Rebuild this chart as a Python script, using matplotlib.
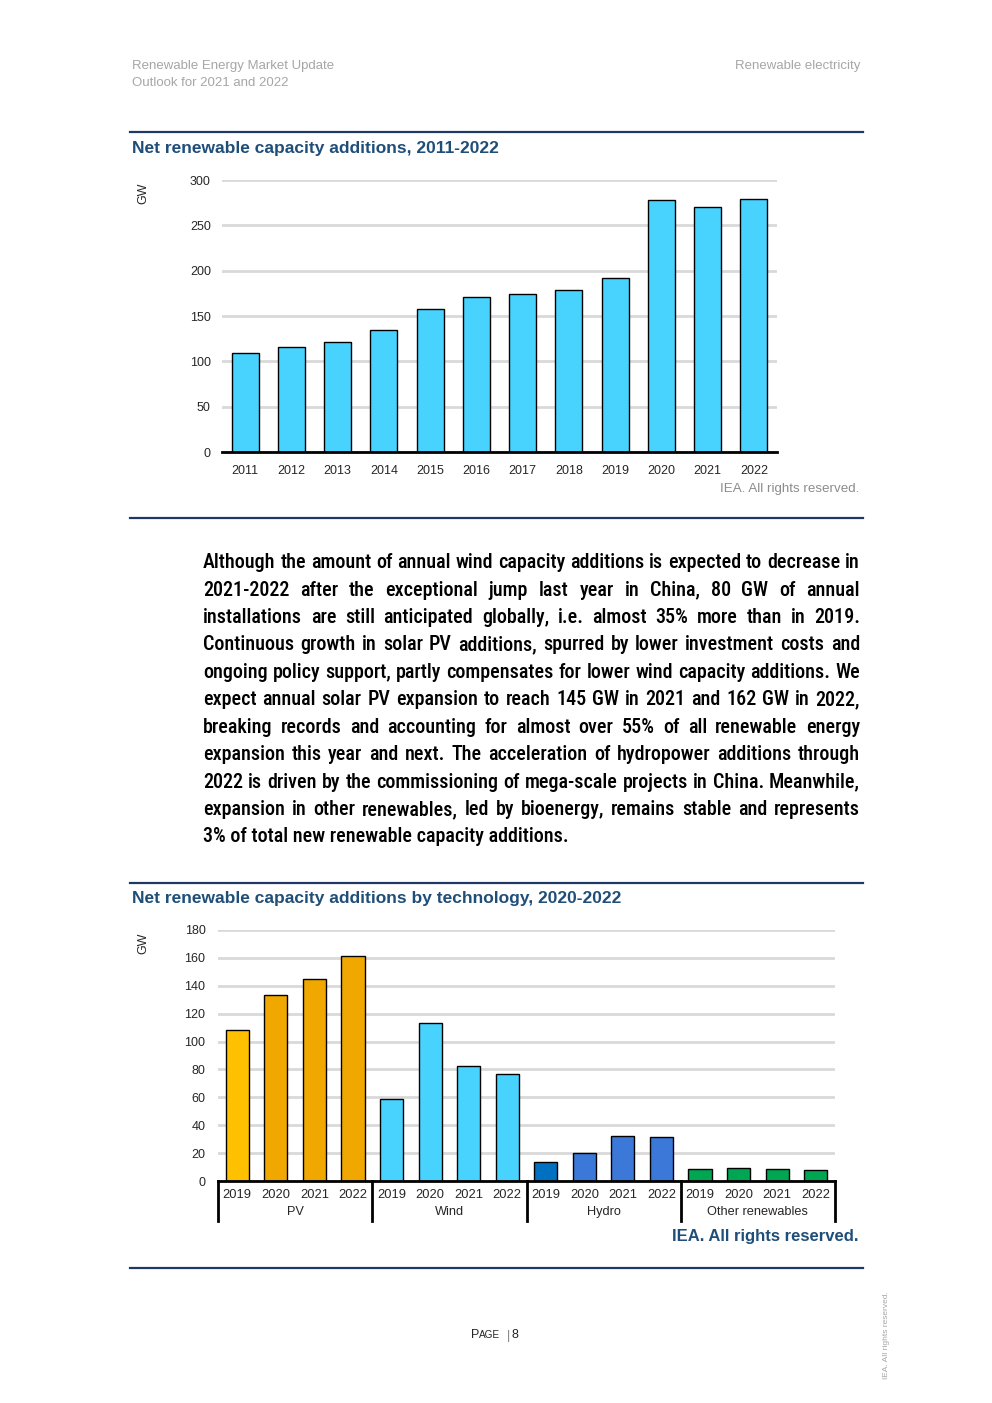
import os
import matplotlib
matplotlib.use("Agg")
import matplotlib.pyplot as plt
from matplotlib import font_manager
from matplotlib.font_manager import FontProperties
from matplotlib.lines import Line2D

W, H = 992, 1403

# chart 1
years_total = ["2011", "2012", "2013", "2014", "2015", "2016",
               "2017", "2018", "2019", "2020", "2021", "2022"]
capacity_total = [109.6, 116, 121.5, 134.6, 157.8, 171,
                  174.3, 178.7, 191.9, 277.6, 269.9, 278.7]

# chart 2
technologies = ["PV", "Wind", "Hydro", "Other renewables"]
tech_years = ["2019", "2020", "2021", "2022"]
pv_values = [108, 133.5, 145, 161.3]
wind_values = [58.7, 113.4, 82.5, 76.7]
hydro_values = [13.4, 19.9, 32.4, 31.4]
other_values = [8.4, 9.1, 8.4, 7.7]

pv_colors = ["#FFC000", "#F0A800", "#F0A800", "#F0A800"]
wind_colors = ["#48D3FF"] * 4
hydro_colors = ["#0070C0", "#3C78D8", "#3C78D8", "#3C78D8"]
other_colors = ["#00A651"] * 4

paragraph = [
    "Although the amount of annual wind capacity additions is expected to decrease in",
    "2021-2022 after the exceptional jump last year in China, 80 GW of annual",
    "installations are still anticipated globally, i.e. almost 35% more than in 2019.",
    "Continuous growth in solar PV additions, spurred by lower investment costs and",
    "ongoing policy support, partly compensates for lower wind capacity additions. We",
    "expect annual solar PV expansion to reach 145 GW in 2021 and 162 GW in 2022,",
    "breaking records and accounting for almost over 55% of all renewable energy",
    "expansion this year and next. The acceleration of hydropower additions through",
    "2022 is driven by the commissioning of mega-scale projects in China. Meanwhile,",
    "expansion in other renewables, led by bioenergy, remains stable and represents",
    "3% of total new renewable capacity additions.",
]

NAVY = "#1F3864"
TITLE = "#1F4E79"


def fx(x):
    return x / W


def fy(y):
    return 1 - y / H


def weight_num(w):
    if isinstance(w, (int, float)):
        return int(w)
    return font_manager.weight_dict.get(w, 400)


def find_condensed(weights):
    # a condensed sans face in the first available weight
    fonts = [f for f in font_manager.fontManager.ttflist if f.style == "normal"]
    for wt in weights:
        for want in ("Liberation Sans Narrow", "Roboto Condensed", "DejaVu Sans Condensed"):
            for f in fonts:
                if f.name == want and weight_num(f.weight) == wt:
                    return f.fname
        for f in fonts:
            base = os.path.basename(f.fname)
            if ("Condensed" in base or "Narrow" in base) and "Italic" not in base \
                    and "Oblique" not in base and weight_num(f.weight) == wt:
                return f.fname
    return None


def main():
    plt.rcParams["font.family"] = ["Liberation Sans", "DejaVu Sans"]
    para_path = find_condensed([500, 700, 400])

    def para_fp(size):
        if para_path:
            return FontProperties(fname=para_path, size=size)
        return FontProperties(family="Liberation Sans", size=size, weight="bold")

    fig = plt.figure(figsize=(W / 100, H / 100), dpi=100)
    renderer = fig.canvas.get_renderer()

    # page header
    fig.text(fx(132), fy(66), "Renewable Energy Market Update", color="#a6a6a6",
             fontsize=9.5, va="center")
    fig.text(fx(132), fy(83), "Outlook for 2021 and 2022", color="#a6a6a6",
             fontsize=9.5, va="center")
    fig.text(fx(860), fy(66), "Renewable electricity", color="#a6a6a6",
             fontsize=9.5, va="center", ha="right")

    for yy in (132, 518, 883, 1268):
        fig.add_artist(Line2D([fx(130), fx(863)], [fy(yy), fy(yy)], color=NAVY, lw=1.6))

    # ---- chart 1
    fig.text(fx(132), fy(148), "Net renewable capacity additions, 2011-2022",
             color=TITLE, fontsize=12.5, weight="bold", va="center")
    ax1 = fig.add_axes([fx(222), fy(452), (777 - 222) / W, (452 - 180) / H])
    x1 = range(len(years_total))
    ax1.bar(x1, capacity_total, width=0.58, color="#48D3FF", edgecolor="black",
            linewidth=1, zorder=3)
    ax1.set_xlim(-0.5, len(years_total) - 0.5)
    ax1.set_ylim(0, 300)
    ax1.set_yticks(range(0, 301, 50))
    ax1.set_xticks(list(x1))
    ax1.set_xticklabels(years_total)
    ax1.yaxis.grid(True, color="#d9d9d9", lw=2)
    ax1.set_axisbelow(True)
    for s in ("top", "right", "left"):
        ax1.spines[s].set_visible(False)
    ax1.spines["bottom"].set_linewidth(2)
    ax1.spines["bottom"].set_zorder(4)
    ax1.tick_params(axis="y", length=0, labelsize=9, pad=8, labelcolor="#262626")
    ax1.tick_params(axis="x", length=0, labelsize=9, pad=9.5, labelcolor="#262626")
    fig.text(fx(143), fy(193), "GW", rotation=90, fontsize=9, ha="center", va="center",
             color="#262626")
    fig.text(fx(859), fy(489), "IEA. All rights reserved.", color="#8c8c8c",
             fontsize=9.6, ha="right", va="center")

    # ---- justified paragraph
    left, right = 203, 860
    span = right - left
    fp0 = para_fp(12)
    widest = max(renderer.get_text_width_height_descent(l, fp0, ismath=False)[0]
                 for l in paragraph[:-1])
    size = 12 * (span - 2) / widest
    fp = para_fp(size)
    for i, line in enumerate(paragraph):
        yy = 568.3 + i * 27.4
        if i == len(paragraph) - 1:
            fig.text(fx(left), fy(yy), line, fontproperties=fp, va="baseline", color="black")
            continue
        words = line.split(" ")
        widths = [renderer.get_text_width_height_descent(w, fp, ismath=False)[0] for w in words]
        gap = (span - sum(widths)) / (len(words) - 1)
        xx = left
        for w, wd in zip(words, widths):
            fig.text(fx(xx), fy(yy), w, fontproperties=fp, va="baseline", color="black")
            xx += wd + gap

    # ---- chart 2
    fig.text(fx(132), fy(898), "Net renewable capacity additions by technology, 2020-2022",
             color=TITLE, fontsize=12.5, weight="bold", va="center")
    ax2 = fig.add_axes([fx(218), fy(1181), (835 - 218) / W, (1181 - 930) / H])
    values = pv_values + wind_values + hydro_values + other_values
    colors = pv_colors + wind_colors + hydro_colors + other_colors
    x2 = list(range(len(values)))
    ax2.bar(x2, values, width=0.6, color=colors, edgecolor="black", linewidth=1, zorder=3)
    ax2.set_xlim(-0.5, len(values) - 0.5)
    ax2.set_ylim(0, 180)
    ax2.set_yticks(range(0, 181, 20))
    ax2.set_xticks(x2)
    ax2.set_xticklabels(tech_years * len(technologies))
    ax2.yaxis.grid(True, color="#d9d9d9", lw=2)
    ax2.set_axisbelow(True)
    for s in ("top", "right", "left"):
        ax2.spines[s].set_visible(False)
    ax2.spines["bottom"].set_linewidth(2)
    ax2.spines["bottom"].set_zorder(4)
    ax2.tick_params(axis="y", length=0, labelsize=9, pad=9, labelcolor="#262626")
    ax2.tick_params(axis="x", length=0, labelsize=9.3, pad=5.5, labelcolor="#262626")
    trans = ax2.get_xaxis_transform()
    n = len(tech_years)
    for g, name in enumerate(technologies):
        ax2.text(g * n + (n - 1) / 2, -31 / 251, name, transform=trans, ha="center",
                 va="center", fontsize=9.2, color="#262626")
    for g in range(len(technologies) + 1):
        ax2.plot([g * n - 0.5, g * n - 0.5], [0, -40 / 251], transform=trans,
                 color="black", lw=2, clip_on=False)
    fig.text(fx(143), fy(943), "GW", rotation=90, fontsize=9, ha="center", va="center",
             color="#262626")
    fig.text(fx(859), fy(1237), "IEA. All rights reserved.", color=TITLE,
             fontsize=12, weight="bold", ha="right", va="center")

    # ---- footer, small caps page label
    fig.text(fx(471.5), fy(1338.5), "P", fontsize=9, va="baseline", color="#262626")
    fig.text(fx(479), fy(1338.5), "AGE", fontsize=7.2, va="baseline", color="#262626")
    fig.text(fx(506.5), fy(1338.5), "|", fontsize=9, va="baseline", color="#7f7f7f")
    fig.text(fx(512), fy(1338.5), "8", fontsize=9, va="baseline", color="#262626")
    fig.text(fx(886), fy(1335), "IEA. All rights reserved.", rotation=90, fontsize=6,
             color="#a6a6a6", ha="center", va="center")

    fig.savefig("out.png", dpi=100)
    plt.close(fig)


if __name__ == "__main__":
    main()
